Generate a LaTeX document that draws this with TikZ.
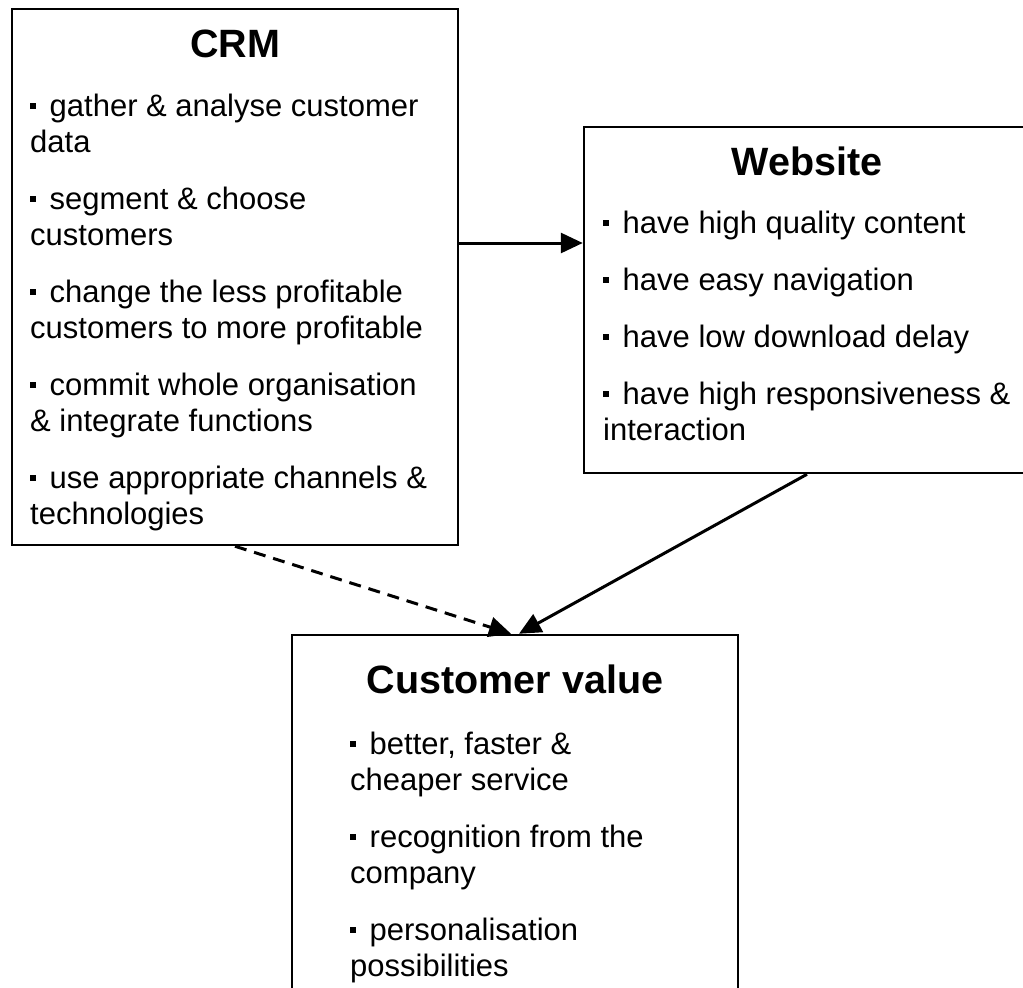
\documentclass[tikz,border=0pt]{standalone}
\usepackage{fontspec}
\setmainfont{Liberation Sans}
\usetikzlibrary{arrows.meta}

\newcommand\bul{\rule[7pt]{6pt}{6pt}\hspace{13.5pt}}

\tikzset{
    panel/.style={draw, line width=2.5pt, minimum width=446pt, inner sep=0pt},
    heading/.style={font=\fontsize{39.5}{40}\selectfont\bfseries, inner sep=0pt},
    items/.style={font=\fontsize{31}{36}\selectfont, align=left, inner sep=0pt},
    link/.style={line width=3pt, -{Triangle[length=22pt,width=20pt]}}
}

\begin{document}
\begin{tikzpicture}[x=1pt,y=-1pt]
    \useasboundingbox (0,0) rectangle (1023,988);
    \clip (0,0) rectangle (1023,988);

    % the three boxes
    \node[panel, minimum height=536pt] (crm) at (235,277) {};
    \node[panel, minimum height=346pt] (web) at (807,300) {};
    \node[panel, minimum height=380pt] (cval) at (515,825) {};

    % CRM (lists are placed by their last baseline)
    \node[heading, anchor=base] (crmT) at (235,57) {CRM};
    \node[items, anchor=base west] (crmL) at (30,524) {\bul gather \& analyse customer\\data\\[21pt]
        \bul segment \& choose\\customers\\[21pt]
        \bul change the less profitable\\customers to more profitable\\[21pt]
        \bul commit whole organisation\\\& integrate functions\\[21pt]
        \bul use appropriate channels \&\\technologies};

    % Website
    \node[heading, anchor=base] (webT) at (807,175) {Website};
    \node[items, anchor=base west] (webL) at (603,440) {\bul have high quality content\\[21pt]
        \bul have easy navigation\\[21pt]
        \bul have low download delay\\[21pt]
        \bul have high responsiveness \&\\interaction};

    % Customer value
    \node[heading, anchor=base] (cvalT) at (515,693) {Customer value};
    \node[items, anchor=base west] (cvalL) at (350,976) {\bul better, faster \&\\cheaper service\\[21pt]
        \bul recognition from the\\company\\[21pt]
        \bul personalisation\\possibilities};

    % links
    \draw[link] (crm.east |- 0,243) -- (web.west |- 0,243);
    \draw[link, dash pattern=on 12pt off 8pt] (crm.south) -- ([xshift=-4pt]cval.north);
    \draw[link] (web.south) -- ([xshift=4pt]cval.north);
\end{tikzpicture}
\end{document}
